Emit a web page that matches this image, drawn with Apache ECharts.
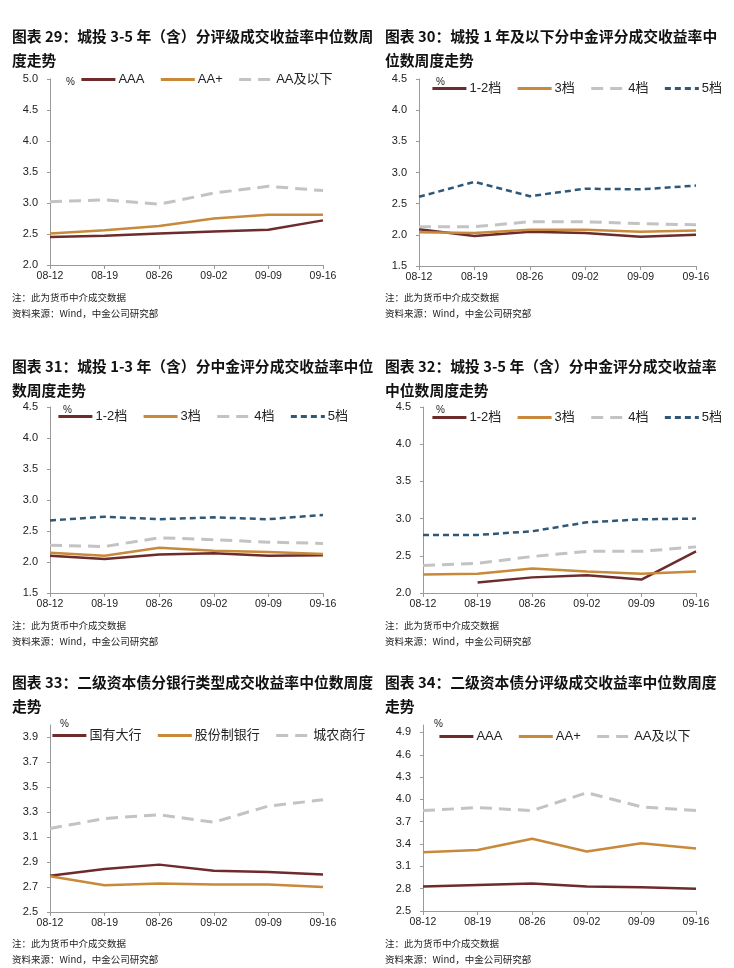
<!DOCTYPE html>
<html>
<head>
<meta charset="utf-8">
<script src="https://cdn.jsdelivr.net/npm/echarts@6/dist/echarts.min.js"></script>
<style>
html,body{margin:0;padding:0;background:#fff;}
#c{width:734px;height:968px;}
</style>
</head>
<body>
<div id="c"></div>
<script>
const categories = ['08-12','08-19','08-26','09-02','09-09','09-16'];

// 图表29
const p29_AAA = [2.45, 2.47, 2.51, 2.54, 2.57, 2.72];
const p29_AAplus = [2.51, 2.56, 2.63, 2.75, 2.81, 2.81];
const p29_AAbelow = [3.02, 3.05, 2.98, 3.16, 3.27, 3.20];
// 图表30
const p30_g12 = [2.09, 1.98, 2.05, 2.03, 1.97, 2.00];
const p30_g3 = [2.04, 2.03, 2.08, 2.08, 2.05, 2.07];
const p30_g4 = [2.13, 2.13, 2.21, 2.21, 2.18, 2.16];
const p30_g5 = [2.61, 2.85, 2.62, 2.74, 2.73, 2.79];
// 图表31
const p31_g12 = [2.10, 2.05, 2.12, 2.14, 2.10, 2.11];
const p31_g3 = [2.15, 2.10, 2.23, 2.18, 2.16, 2.13];
const p31_g4 = [2.27, 2.25, 2.39, 2.36, 2.32, 2.30];
const p31_g5 = [2.67, 2.73, 2.69, 2.72, 2.69, 2.76];
// 图表32
const p32_g12 = [null, 2.14, 2.21, 2.24, 2.18, 2.56];
const p32_g3 = [2.25, 2.26, 2.33, 2.29, 2.26, 2.29];
const p32_g4 = [2.37, 2.40, 2.49, 2.56, 2.56, 2.62];
const p32_g5 = [2.78, 2.78, 2.83, 2.95, 2.99, 3.00];
// 图表33
const p33_big = [2.79, 2.845, 2.88, 2.83, 2.82, 2.80];
const p33_joint = [2.786, 2.714, 2.728, 2.72, 2.72, 2.70];
const p33_city = [3.17, 3.25, 3.28, 3.22, 3.35, 3.40];
// 图表34
const p34_AAA = [2.83, 2.85, 2.87, 2.83, 2.82, 2.80];
const p34_AAplus = [3.29, 3.32, 3.47, 3.30, 3.41, 3.34];
const p34_AAbelow = [3.85, 3.89, 3.85, 4.09, 3.90, 3.85];

const titles = [
  '图表 29：城投 3-5 年（含）分评级成交收益率中位数周\n度走势',
  '图表 30：城投 1 年及以下分中金评分成交收益率中\n位数周度走势',
  '图表 31：城投 1-3 年（含）分中金评分成交收益率中位\n数周度走势',
  '图表 32：城投 3-5 年（含）分中金评分成交收益率\n中位数周度走势',
  '图表 33：二级资本债分银行类型成交收益率中位数周度\n走势',
  '图表 34：二级资本债分评级成交收益率中位数周度\n走势'
];
const noteText = '注：此为货币中介成交数据\n资料来源：Wind，中金公司研究部';

const C_MAROON = '#6E2B2B', C_ORANGE = '#C8893A', C_GRAY = '#C3C3C3', C_BLUE = '#2F5878';
const styleSolidA = {color: C_MAROON, width: 2.5, type: 'solid'};
const styleSolidB = {color: C_ORANGE, width: 2.5, type: 'solid'};
const styleLongDash = {color: C_GRAY, width: 3, type: [12, 7]};
const styleShortDash = {color: C_BLUE, width: 2.5, type: [6, 4]};

const panels = [
  {grid:{left:50, top:79, width:273, height:186}, y:[2.0,5.0,0.5,1], titleX:12, titleY:24, noteY:289, pctX:66, pctY:77, legendX:80, legendY:73,
   series:[['AAA',p29_AAA,styleSolidA],['AA+',p29_AAplus,styleSolidB],['AA及以下',p29_AAbelow,styleLongDash]]},
  {grid:{left:419, top:79, width:277, height:187}, y:[1.5,4.5,0.5,1], titleX:385, titleY:24, noteY:289, pctX:436, pctY:77, legendX:431, legendY:82,
   series:[['1-2档',p30_g12,styleSolidA],['3档',p30_g3,styleSolidB],['4档',p30_g4,styleLongDash],['5档',p30_g5,styleShortDash]]},
  {grid:{left:50, top:407, width:273, height:186}, y:[1.5,4.5,0.5,1], titleX:12, titleY:354, noteY:617, pctX:63, pctY:405, legendX:57, legendY:410,
   series:[['1-2档',p31_g12,styleSolidA],['3档',p31_g3,styleSolidB],['4档',p31_g4,styleLongDash],['5档',p31_g5,styleShortDash]]},
  {grid:{left:423, top:407, width:273, height:186}, y:[2.0,4.5,0.5,1], titleX:385, titleY:354, noteY:617, pctX:436, pctY:405, legendX:431, legendY:411,
   series:[['1-2档',p32_g12,styleSolidA],['3档',p32_g3,styleSolidB],['4档',p32_g4,styleLongDash],['5档',p32_g5,styleShortDash]]},
  {grid:{left:50, top:725, width:273, height:187}, y:[2.5,4.0,0.2,1], titleX:12, titleY:670, noteY:935, pctX:60, pctY:719, legendX:51, legendY:729, hideMax:true,
   series:[['国有大行',p33_big,styleSolidA],['股份制银行',p33_joint,styleSolidB],['城农商行',p33_city,styleLongDash]]},
  {grid:{left:423, top:725, width:273, height:186}, y:[2.5,5.0,0.3,1], titleX:385, titleY:670, noteY:935, pctX:434, pctY:719, legendX:438, legendY:730, hideMax:true,
   series:[['AAA',p34_AAA,styleSolidA],['AA+',p34_AAplus,styleSolidB],['AA及以下',p34_AAbelow,styleLongDash]]}
];

const option = {
  animation: false,
  backgroundColor: '#fff',
  title: [], grid: [], xAxis: [], yAxis: [], legend: [], series: []
};

panels.forEach((p, i) => {
  option.title.push({
    text: titles[i], left: p.titleX, top: p.titleY, padding: 0,
    textStyle: {fontFamily: '"Noto Sans CJK SC", sans-serif', fontSize: 14.8, fontWeight: 'bold', color: '#111', lineHeight: 24}
  });
  option.title.push({
    text: noteText, left: p.titleX, top: p.noteY, padding: 0,
    textStyle: {fontFamily: '"Noto Sans CJK SC", sans-serif', fontSize: 9.5, fontWeight: 'normal', color: '#222', lineHeight: 16}
  });
  option.title.push({
    text: '%', left: p.pctX, top: p.pctY, padding: 0,
    textStyle: {fontFamily: 'Liberation Sans, Arial, sans-serif', fontSize: 10, fontWeight: 'normal', color: '#222'}
  });
  option.grid.push(Object.assign({containLabel: false}, p.grid));
  option.xAxis.push({
    type: 'category', gridIndex: i, data: categories, boundaryGap: false,
    axisLine: {lineStyle: {color: '#9a9a9a', width: 1}},
    axisTick: {show: true, length: 4, inside: false, alignWithLabel: true, lineStyle: {color: '#9a9a9a'}},
    axisLabel: {fontFamily: 'Liberation Sans, Arial, sans-serif', fontSize: 10.5, color: '#222', margin: 6, interval: 0},
    splitLine: {show: false}
  });
  option.yAxis.push({
    type: 'value', gridIndex: i, min: p.y[0], max: p.y[1], interval: p.y[2],
    axisLine: {show: true, lineStyle: {color: '#9a9a9a', width: 1}},
    axisTick: {show: true, length: 3, lineStyle: {color: '#9a9a9a'}},
    axisLabel: {fontFamily: 'Liberation Sans, Arial, sans-serif', fontSize: 11, color: '#222', margin: 12,
      showMaxLabel: !p.hideMax,
      formatter: v => v.toFixed(p.y[3])},
    splitLine: {show: false}
  });
  option.legend.push({
    left: p.legendX, top: p.legendY, orient: 'horizontal', padding: 0,
    itemWidth: 34, itemHeight: 14, itemGap: 15,
    itemStyle: {opacity: 0},
    lineStyle: {width: 2.8},
    data: p.series.map(s => ({name: s[0] + '\u200b'.repeat(i)})),
    textStyle: {fontFamily: 'Liberation Sans, "Noto Sans CJK SC", sans-serif', fontSize: 13, color: '#222', padding: [0,0,0,-2]},
    selectedMode: false
  });
  p.series.forEach(s => {
    option.series.push({
      type: 'line', name: s[0] + '\u200b'.repeat(i), xAxisIndex: i, yAxisIndex: i,
      data: s[1], symbol: 'none', showSymbol: false, connectNulls: false,
      lineStyle: s[2], itemStyle: {color: s[2].color}
    });
  });
});

const chart = echarts.init(document.getElementById('c'), null, {renderer: 'canvas'});
chart.setOption(option);
</script>
</body>
</html>
